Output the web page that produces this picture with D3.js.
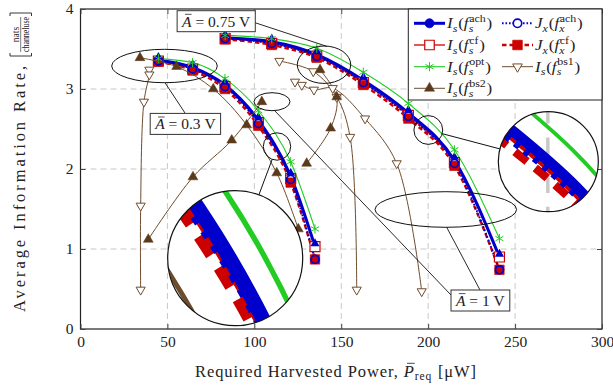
<!DOCTYPE html>
<html>
<head>
<meta charset="utf-8">
<script src="https://cdn.jsdelivr.net/npm/d3@7"></script>
<style>
  body { margin: 0; background: #fff; }
  svg { display: block; }
</style>
</head>
<body>
<svg id="chart" width="613" height="387"></svg>
<script>
// ---- values ----
const xTicks = [0, 50, 100, 150, 200, 250, 300];
const yTicks = [0, 1, 2, 3, 4];

// inner trade-off curve
const powerA = [44.8, 64.5, 83.1, 102.3, 120.9, 134.9];
const achIsA = [3.36, 3.27, 3.05, 2.61, 1.91, 1.03];
const achJxA = [3.35, 3.25, 3.03, 2.57, 1.87, 0.87];
const cfIsA  = [3.35, 3.25, 3.03, 2.58, 1.88, 1.03];
const cfJxA  = [3.34, 3.23, 3.00, 2.54, 1.83, 0.87];
const optA   = [3.38, 3.33, 3.13, 2.73, 2.09, 1.25];

// outer trade-off curve
const powerB = [83.2, 110.0, 135.9, 162.7, 188.6, 215.1, 241.0];
const achIsB = [3.64, 3.59, 3.43, 3.11, 2.70, 2.11, 0.90];
const achJxB = [3.63, 3.57, 3.41, 3.08, 2.66, 2.07, 0.74];
const cfIsB  = [3.63, 3.57, 3.41, 3.08, 2.67, 2.08, 0.90];
const cfJxB  = [3.62, 3.55, 3.39, 3.05, 2.63, 2.04, 0.74];
const optB   = [3.67, 3.63, 3.51, 3.21, 2.82, 2.24, 1.13];

// baseline 1 (open triangles)
const bs1PowerA = [39.6, 39.6, 36.5, 34.6, 34.6];
const bs1RateA  = [3.24, 3.18, 2.84, 1.54, 0.49];
const bs1PowerB = [114.4, 133.9, 147.4, 155.1, 158.9];
const bs1RateB  = [3.35, 3.22, 2.90, 2.40, 0.49];
const bs1PowerC = [123.4, 127.3, 134.3, 145.1, 163.7, 181.9, 196.3];
const bs1RateC  = [3.09, 3.05, 2.99, 3.01, 2.63, 2.07, 0.47];

// baseline 2 (filled triangles)
const bs2PowerA = [34.2, 55.3, 76.4, 95.6, 112.9, 125.3];
const bs2RateA  = [3.39, 3.28, 3.00, 2.55, 1.95, 1.25];
const bs2PowerB = [39.0, 64.7, 87.0, 104.3];
const bs2RateB  = [1.12, 1.90, 2.36, 2.84];
const bs2PowerC = [137.8, 147.4, 143.9, 130.1];
const bs2RateC  = [3.24, 2.90, 2.51, 2.07];

const ampLabels = ['0.3', '0.75', '1'];

// ---- scales ----
const x = d3.scaleLinear().domain([0, 300]).range([80.5, 602]);
const y = d3.scaleLinear().domain([0, 4]).range([329, 9]);

const FONT = "'Liberation Serif', 'Times New Roman', serif";
const INK = '#222';
const BLUE = '#0000cc', RED = '#cc0000', GREEN = '#22cc22';
const BROWN = '#6e4d2d', BROWN_DARK = '#5a3a1b';

const svg = d3.select('#chart');
const pts = (xs, ys) => xs.map((v, i) => [v, ys[i]]);
const smooth = d3.line().x(d => x(d[0])).y(d => y(d[1])).curve(d3.curveMonotoneX);
const loose = d3.line().x(d => x(d[0])).y(d => y(d[1])).curve(d3.curveCatmullRom.alpha(0.5));
const sym = (type, size) => d3.symbol().type(type).size(size)();

const mainCurves = [
  { power: powerA, achIs: achIsA, achJx: achJxA, cfIs: cfIsA, cfJx: cfJxA, opt: optA },
  { power: powerB, achIs: achIsB, achJx: achJxB, cfIs: cfIsB, cfJx: cfJxB, opt: optB }
];
const bs1 = [pts(bs1PowerA, bs1RateA), pts(bs1PowerB, bs1RateB), pts(bs1PowerC, bs1RateC)];
const bs2 = [pts(bs2PowerA, bs2RateA), pts(bs2PowerB, bs2RateB), pts(bs2PowerC, bs2RateC)];

function path(g, d, color, w, dash) {
  g.append('path').attr('d', d).attr('fill', 'none').attr('stroke', color)
    .attr('stroke-width', w).attr('stroke-dasharray', dash || null);
}

function marks(g, data, shape, fill, stroke, sw, rot = 0, dy = 0) {
  g.append('g').selectAll('path').data(data).join('path')
    .attr('d', shape)
    .attr('transform', d => `translate(${x(d[0])},${y(d[1]) + dy}) rotate(${rot})`)
    .attr('fill', fill).attr('stroke', stroke).attr('stroke-width', sw);
}

function drawGrid(g) {
  g.append('g').selectAll('line').data(xTicks.slice(1, -1)).join('line')
    .attr('x1', d => x(d)).attr('x2', d => x(d)).attr('y1', y(0)).attr('y2', y(4));
  g.append('g').selectAll('line').data(yTicks.slice(1, -1)).join('line')
    .attr('x1', x(0)).attr('x2', x(300)).attr('y1', d => y(d)).attr('y2', d => y(d));
  g.selectAll('line').attr('stroke', '#c8c8c8').attr('stroke-width', 1).attr('stroke-dasharray', '6,4');
}

function drawData(g) {
  mainCurves.forEach(c => {
    path(g, smooth(pts(c.power, c.cfJx)), RED, 2.4, '4.5,3');
    path(g, smooth(pts(c.power, c.cfIs)), RED, 1.3);
    path(g, smooth(pts(c.power, c.achIs)), BLUE, 3);
    path(g, smooth(pts(c.power, c.achJx)), BLUE, 2, '1.6,1.9');
    path(g, smooth(pts(c.power, c.opt)), GREEN, 1.1);
  });
  mainCurves.forEach(c => {
    marks(g, pts(c.power, c.cfIs), sym(d3.symbolSquare, 100), '#fff', RED, 1.2);
    marks(g, pts(c.power, c.cfJx), sym(d3.symbolSquare, 90), RED, RED, 0.6);
    marks(g, pts(c.power, c.achIs), sym(d3.symbolTriangle, 36), BLUE, 'none', 0, 0, -3);
    marks(g, pts(c.power, c.achJx), sym(d3.symbolCircle, 50), 'none', BLUE, 1.8);
    marks(g, pts(c.power, c.opt), sym(d3.symbolAsterisk, 60), 'none', GREEN, 1);
  });
  bs1.forEach(c => path(g, loose(c), BROWN, 1));
  bs2.forEach(c => path(g, loose(c), BROWN, 1));
  bs1.forEach(c => marks(g, c, sym(d3.symbolTriangle, 36), '#fff', BROWN, 1, 180));
  bs2.forEach(c => marks(g, c, sym(d3.symbolTriangle, 42), BROWN_DARK, BROWN_DARK, 0.5));
}

// text with italic letters, sub/superscripts and bars; ls = letter spacing
function mathText(parent, x0, y0, parts, size, ls = 0) {
  const g = parent.append('g');
  let cx = x0;
  const mk = (sel, fs, it) => sel.style('font-family', FONT).attr('fill', INK).attr('font-size', fs)
    .attr('font-style', it ? 'italic' : 'normal').attr('letter-spacing', ls || null);
  const put = (txt, px, py, fs, it) => mk(g.append('text'), fs, it).attr('x', px).attr('y', py)
    .text(txt.replace(/ /g, '\u00a0')).node().getComputedTextLength();
  parts.forEach(p => {
    if (p.stack) {
      const t = mk(g.append('text'), size * 0.7, false);
      const a = t.append('tspan').attr('x', cx + 0.5).attr('y', y0 - size * 0.42).text(p.stack[0]);
      const b = t.append('tspan').attr('x', cx).attr('y', y0 + size * 0.24).attr('font-style', 'italic').text(p.stack[1]);
      cx += Math.max(a.node().getComputedTextLength(), b.node().getComputedTextLength()) + size * 0.08;
    } else if (p.sub) {
      cx += put(p.t, cx, y0 + size * 0.24, size * 0.7, p.it) + size * 0.05;
    } else {
      const w = put(p.t, cx, y0, size, p.it);
      if (p.bar) {
        g.append('line').attr('x1', cx + w * 0.3).attr('x2', cx + w * 1.0)
          .attr('y1', y0 - size * 0.8).attr('y2', y0 - size * 0.8)
          .attr('stroke', INK).attr('stroke-width', size * 0.05);
      }
      cx += w;
    }
  });
  return { g, width: cx - x0 };
}

// lay a label out to a target length by spreading the letters
function fitText(parent, parts, size, target) {
  const probe = mathText(parent, 0, 0, parts, size);
  probe.g.remove();
  const n = parts.reduce((s, p) => s + (p.t || '').length, 0);
  const t = mathText(parent, 0, 0, parts, size, (target - probe.width) / n);
  return t;
}

// ---- plot ----
drawGrid(svg.append('g'));
drawData(svg.append('g'));

svg.append('rect').attr('x', x(0)).attr('y', y(4)).attr('width', x(300) - x(0)).attr('height', y(0) - y(4))
  .attr('fill', 'none').attr('stroke', '#222').attr('stroke-width', 1.2);

const axes = [
  svg.append('g').attr('transform', `translate(0,${y(0)})`)
    .call(d3.axisBottom(x).tickValues(xTicks).tickFormat(d3.format('d')).tickSizeInner(-5).tickSizeOuter(0).tickPadding(7)),
  svg.append('g').attr('transform', `translate(${x(0)},0)`)
    .call(d3.axisLeft(y).tickValues(yTicks).tickFormat(d3.format('d')).tickSizeInner(-5).tickSizeOuter(0).tickPadding(7)),
  svg.append('g').attr('transform', `translate(0,${y(4)})`)
    .call(d3.axisTop(x).tickValues(xTicks).tickSizeInner(-5).tickSizeOuter(0).tickFormat(() => '')),
  svg.append('g').attr('transform', `translate(${x(300)},0)`)
    .call(d3.axisRight(y).tickValues(yTicks).tickSizeInner(-5).tickSizeOuter(0).tickFormat(() => ''))
];
axes.forEach(a => {
  a.select('.domain').remove();
  a.selectAll('line').attr('stroke', '#444');
  a.selectAll('text').attr('font-size', 15.5).style('font-family', FONT).attr('fill', INK);
});

// axis titles
const xl = fitText(svg, [{ t: 'Required Harvested Power, ' }, { t: 'P', it: true, bar: true },
  { t: 'req', sub: true }, { t: ' [\u03bcW]' }], 16.5, 282);
xl.g.attr('transform', `translate(${336 - xl.width / 2},376.5)`);

const yl = fitText(svg, [{ t: 'Average Information Rate,' }], 16.5, 249);
yl.g.attr('transform', 'translate(25,312) rotate(-90)');
const yf = svg.append('g').attr('transform', 'translate(25,312) rotate(-90)');
yf.append('path').attr('d', 'M259,-15H256V6.5H259M296,-15H299V6.5H296').attr('fill', 'none').attr('stroke', INK).attr('stroke-width', 0.9);
yf.append('line').attr('x1', 260).attr('x2', 295).attr('y1', -4.3).attr('y2', -4.3).attr('stroke', INK).attr('stroke-width', 0.6);
yf.append('text').attr('x', 277.5).attr('y', -6.3).attr('text-anchor', 'middle').attr('font-size', 9.5)
  .attr('fill', INK).style('font-family', FONT).text('nats');
yf.append('text').attr('x', 277.5).attr('y', 4.2).attr('text-anchor', 'middle').attr('font-size', 9.5)
  .attr('fill', INK).attr('textLength', 35).attr('lengthAdjust', 'spacingAndGlyphs').style('font-family', FONT).text('channeluse');

// ---- annotations ----
const ell = [[164.5, 66, 52.8, 16.7], [324, 64.7, 26.7, 18.7], [272, 101.7, 18, 9], [445.8, 209.5, 70.8, 17.8]];
svg.append('g').selectAll('ellipse').data(ell).join('ellipse')
  .attr('cx', d => d[0]).attr('cy', d => d[1]).attr('rx', d => d[2]).attr('ry', d => d[3])
  .attr('fill', 'none').attr('stroke', '#111').attr('stroke-width', 1);
const leaders = [[165, 82.7, 185, 113], [255, 22.7, 326.7, 46.3], [274, 110, 451, 295], [446.7, 227.3, 480, 290]];
svg.append('g').selectAll('line').data(leaders).join('line')
  .attr('x1', d => d[0]).attr('y1', d => d[1]).attr('x2', d => d[2]).attr('y2', d => d[3])
  .attr('stroke', '#111').attr('stroke-width', 0.9);

const boxPos = [[185.4, 123.9], [216.2, 21.2], [480.4, 300.5]];
ampLabels.forEach((v, i) => {
  const g = svg.append('g');
  const rect = g.append('rect');
  const t = mathText(g, 0, 0, [{ t: 'A', it: true, bar: true }, { t: ' = ' + v + ' V' }], 15.5);
  const [cx, cy] = boxPos[i];
  const w = t.width + 10, h = 21;
  rect.attr('x', cx - w / 2).attr('y', cy - h / 2).attr('width', w).attr('height', h)
    .attr('fill', '#fff').attr('stroke', '#333').attr('stroke-width', 1);
  t.g.attr('transform', `translate(${cx - t.width / 2},${cy + 5.5})`);
});

// ---- magnifiers ----
function spy(src, r, dst, R, id) {
  const k = R / r;
  const dx = dst[0] - src[0], dy = dst[1] - src[1], len = Math.hypot(dx, dy);
  svg.append('circle').attr('cx', src[0]).attr('cy', src[1]).attr('r', r)
    .attr('fill', 'none').attr('stroke', '#111').attr('stroke-width', 1);
  svg.append('line').attr('x1', src[0] + dx / len * r).attr('y1', src[1] + dy / len * r)
    .attr('x2', dst[0] - dx / len * R).attr('y2', dst[1] - dy / len * R)
    .attr('stroke', '#111').attr('stroke-width', 1);
  svg.append('clipPath').attr('id', id).append('circle').attr('cx', dst[0]).attr('cy', dst[1]).attr('r', R);
  svg.append('circle').attr('cx', dst[0]).attr('cy', dst[1]).attr('r', R).attr('fill', '#fff');
  const g = svg.append('g').attr('clip-path', `url(#${id})`).append('g')
    .attr('transform', `translate(${dst[0]},${dst[1]}) scale(${k}) translate(${-src[0]},${-src[1]})`);
  drawGrid(g);
  drawData(g);
  svg.append('circle').attr('cx', dst[0]).attr('cy', dst[1]).attr('r', R)
    .attr('fill', 'none').attr('stroke', '#111').attr('stroke-width', 1.2);
}
spy([277, 146.5], 13.7, [235.2, 258.2], 67.5, 'spyA');
spy([428.3, 130], 14.4, [548.3, 161.7], 50, 'spyB');

// ---- legend ----
const lg = svg.append('g');
lg.append('rect').attr('x', 408.3).attr('y', y(4)).attr('width', x(300) - 408.3).attr('height', 91)
  .attr('fill', '#fff').attr('stroke', '#222').attr('stroke-width', 1);
const colX = [414, 502], rowY = [23.3, 45, 66.7, 88.3];
const legendItems = [
  { col: 0, row: 0, b: 'I', s: 's', sup: 'ach', color: BLUE, w: 3, shape: sym(d3.symbolCircle, 64), fill: BLUE },
  { col: 1, row: 0, b: 'J', s: 'x', sup: 'ach', color: BLUE, w: 2, dash: '1.6,1.9', shape: sym(d3.symbolCircle, 56), fill: '#fff', sw: 1.6 },
  { col: 0, row: 1, b: 'I', s: 's', sup: 'cf', color: RED, w: 1.3, shape: sym(d3.symbolSquare, 90), fill: '#fff', sw: 1.2 },
  { col: 1, row: 1, b: 'J', s: 'x', sup: 'cf', color: RED, w: 2.4, dash: '4.5,3', shape: sym(d3.symbolSquare, 90), fill: RED },
  { col: 0, row: 2, b: 'I', s: 's', sup: 'opt', color: GREEN, w: 1.1, shape: sym(d3.symbolAsterisk, 60), fill: 'none', sw: 1 },
  { col: 1, row: 2, b: 'I', s: 's', sup: 'bs1', color: BROWN, w: 1, shape: sym(d3.symbolTriangle, 40), fill: '#fff', sw: 1, rot: 180 },
  { col: 0, row: 3, b: 'I', s: 's', sup: 'bs2', color: BROWN, w: 1, shape: sym(d3.symbolTriangle, 46), fill: BROWN_DARK, sw: 0.5 }
];
legendItems.forEach(it => {
  const x0 = colX[it.col], yy = rowY[it.row];
  lg.append('line').attr('x1', x0).attr('x2', x0 + 31).attr('y1', yy).attr('y2', yy)
    .attr('stroke', it.color).attr('stroke-width', it.w).attr('stroke-dasharray', it.dash || null);
  lg.append('path').attr('d', it.shape).attr('transform', `translate(${x0 + 15.5},${yy}) rotate(${it.rot || 0})`)
    .attr('fill', it.fill).attr('stroke', it.color).attr('stroke-width', it.sw || 0.8);
  const t = mathText(lg, 0, 0, [{ t: it.b, it: true }, { t: it.s, it: true, sub: true }, { t: '(' },
    { t: 'f', it: true }, { stack: [it.sup, it.s] }, { t: ')' }], 15.5);
  t.g.attr('transform', `translate(${x0 + 33},${yy + 5}) scale(${Math.min(1.1, 52 / t.width)},1)`);
});
</script>
</body>
</html>
